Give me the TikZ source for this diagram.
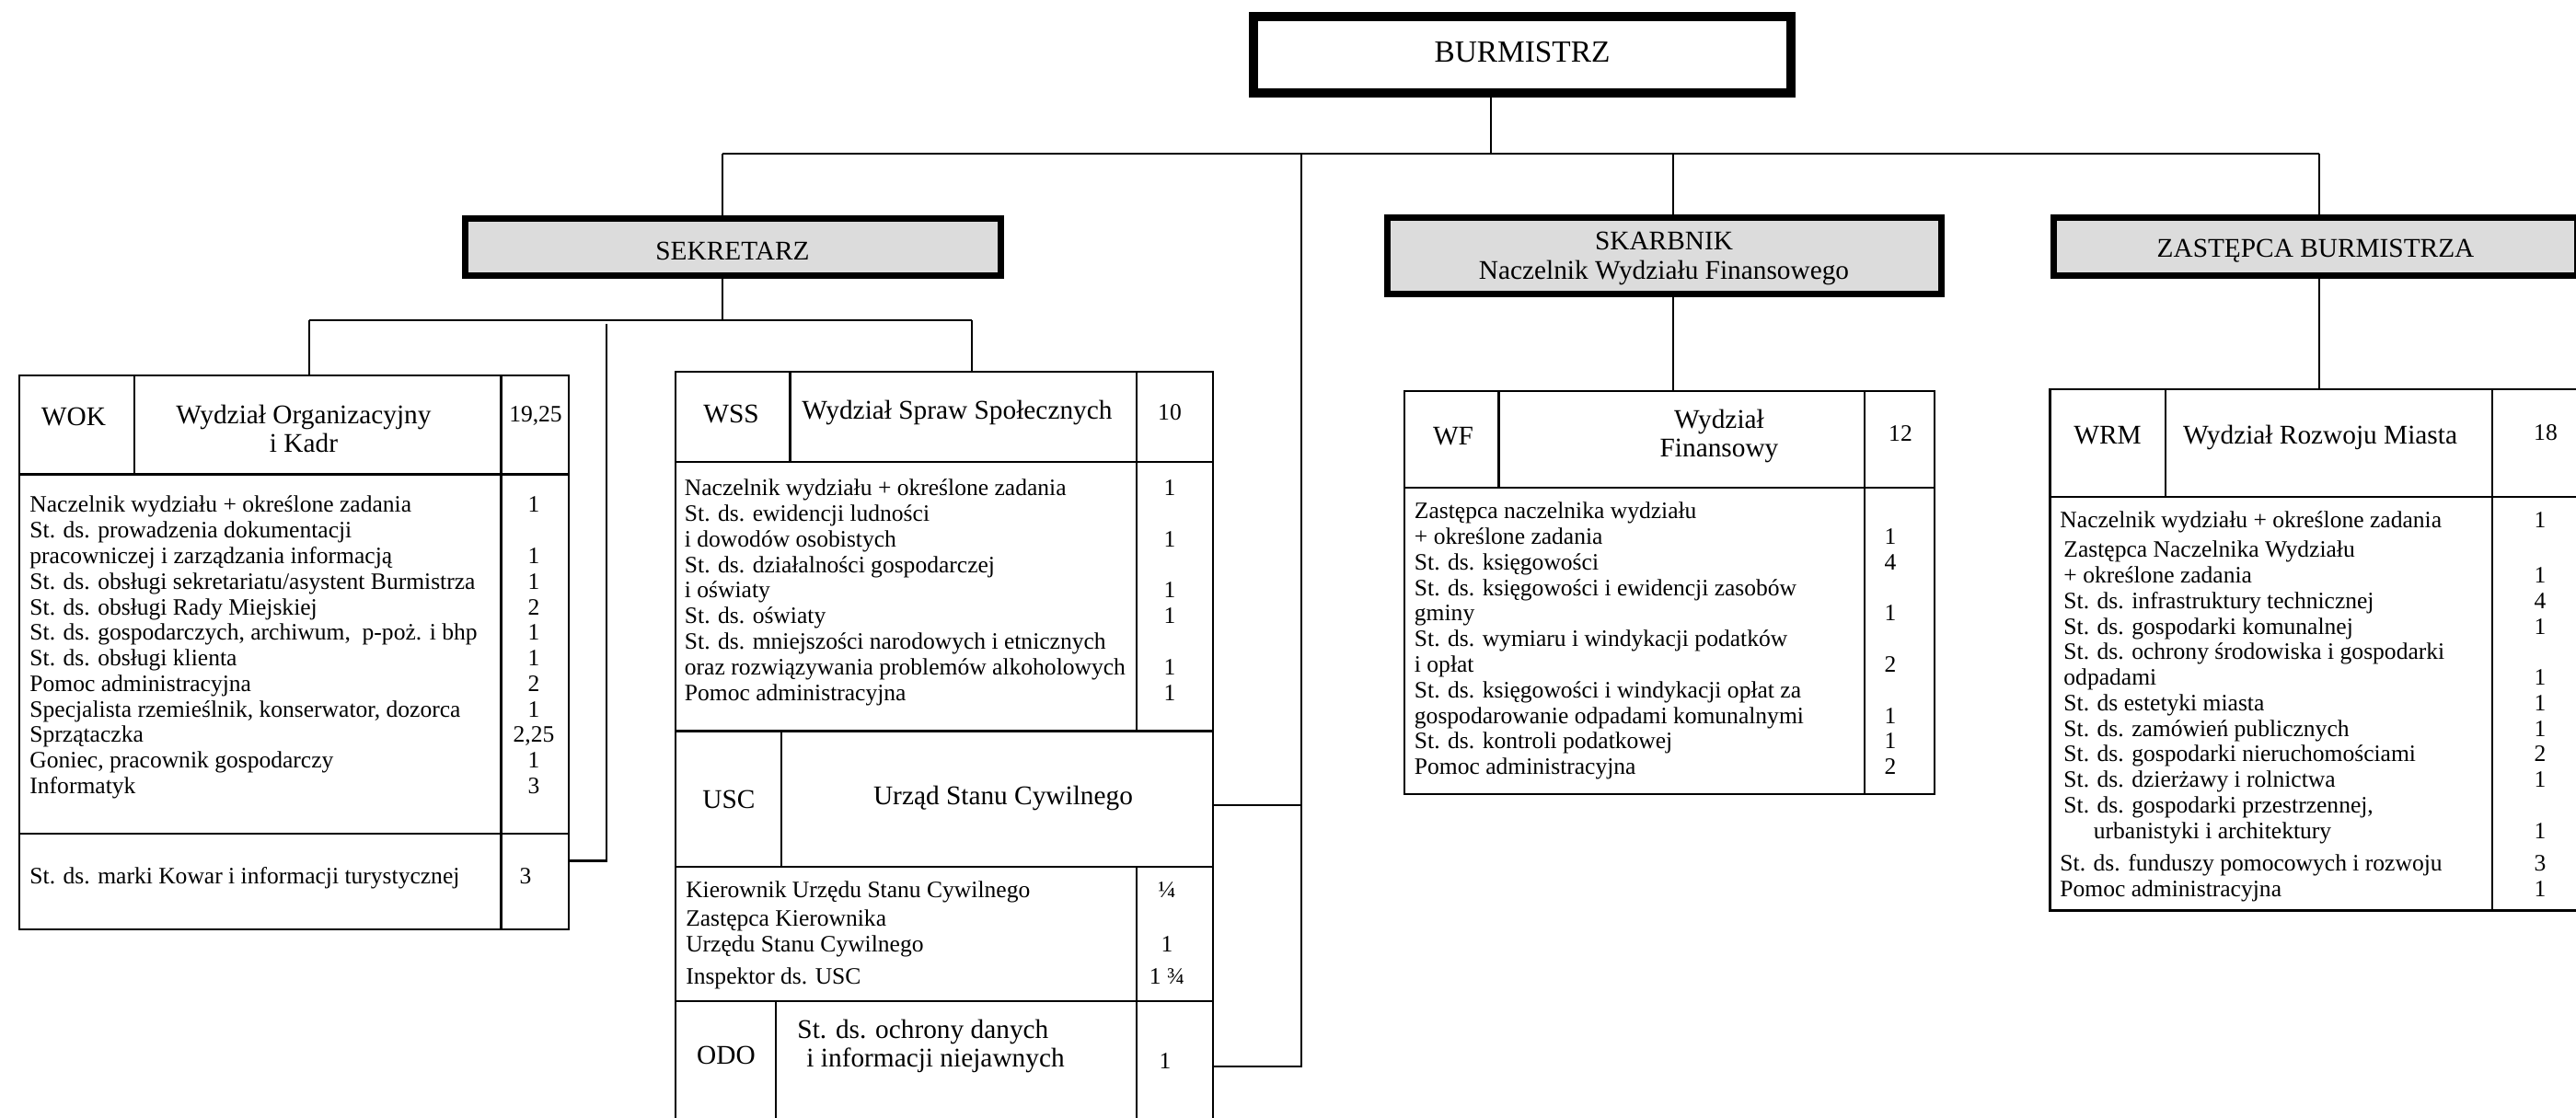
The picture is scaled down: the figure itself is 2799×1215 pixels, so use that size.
\documentclass[tikz,border=0pt]{standalone}
\usepackage{fontspec}
\setmainfont{Liberation Serif}
\usepackage{tikz}
\usetikzlibrary{fit}
\definecolor{boxgray}{RGB}{220,220,220}
\newcommand{\lstfont}{\fontsize{11.5}{12.5}\selectfont}
\newcommand{\hdrfont}{\fontsize{13.2}{14.2}\selectfont}
\newcommand{\bossfont}{\fontsize{15}{17}\selectfont}

\begin{document}
\begin{tikzpicture}[x=0.45pt, y=-0.45pt,
    chief/.style={draw, line width=4.5pt, fill=white, inner sep=0pt},
    deputy/.style={draw, line width=3.2pt, fill=boxgray, inner sep=0pt},
    frame/.style={draw, line width=1pt, inner sep=0pt},
    rule/.style={line width=1pt},
    link/.style={line width=1pt},
    hdr/.style={font=\hdrfont, align=center, inner sep=0pt},
    lst/.style={font=\lstfont, align=left, anchor=north west, inner sep=0pt},
    num/.style={font=\lstfont, align=center, anchor=north, inner sep=0pt},
    one/.style={font=\lstfont, inner sep=0pt, anchor=base}]
    \useasboundingbox (0,0) rectangle (2799,1215);

    % Top management
    \node[chief, fit={(1362,18) (1946,101)}] (burm) {};
    \node[deputy, fit={(505.5,237.5) (1087.5,299.5)}] (sekr) {};
    \node[deputy, fit={(1507.5,236.5) (2109.5,319.5)}] (skarb) {};
    \node[deputy, fit={(2231.5,236.5) (2800.5,299.5)}] (zast) {};
    \node[font=\bossfont, inner sep=0pt] (burmtxt) at (1654,57) {BURMISTRZ};
    \node[hdr] (sekrtxt) at (796,273) {SEKRETARZ};
    \node[hdr] (skarbtxt) at (1808,281) {SKARBNIK\\Naczelnik Wydziału Finansowego};
    \node[hdr] (zasttxt) at (2516,273) {ZASTĘPCA BURMISTRZA};

    % Department frames
    \node[frame, fit={(21,408) (618,1010)}] (wok) {};
    \node[frame, fit={(734,404) (1318,794.6)}] (wss) {};
    \node[frame, fit={(734,794.6) (1318,1088.3)}] (usc) {};
    \node[frame, fit={(734,1088.3) (1318,1230)}] (odo) {};
    \node[frame, fit={(1525.7,425) (2102,863.3)}] (wf) {};
    \node[frame, fit={(2227.5,423) (2822,989.6)}] (wrm) {};

    % Inner rules of the tables
    \draw[rule] (21,515.6) -- (618,515.6) (21,905.7) -- (618,905.7);
    \draw[rule] (146,408) -- (146,515.6) (544.6,408) -- (544.6,1010);
    \draw[rule] (734,502.3) -- (1318,502.3) (858.4,404) -- (858.4,502.3);
    \draw[rule] (1234.8,404) -- (1234.8,794.6);
    \draw[rule] (849.3,794.6) -- (849.3,941.7) (734,941.7) -- (1318,941.7);
    \draw[rule] (1234.8,941.7) -- (1234.8,1088.3);
    \draw[rule] (843,1088.3) -- (843,1230) (1234.8,1088.3) -- (1234.8,1230);
    \draw[rule] (1525.7,530) -- (2102,530) (1628.5,425) -- (1628.5,530);
    \draw[rule] (2025.7,425) -- (2025.7,863.3);
    \draw[rule] (2227.5,539.7) -- (2822,539.7) (2352.8,423) -- (2352.8,539.7);
    \draw[rule] (2708,423) -- (2708,989.6);

    % Main bus
    \coordinate (bdrop) at (1620,167);
    \coordinate (sdrop) at (785,167);
    \coordinate (trunk) at (1414,167);
    \coordinate (fdrop) at (1818,167);
    \coordinate (zdrop) at (2520,167);
    \draw[link] (sdrop) -- (zdrop);
    \draw[link] (burm.south -| bdrop) -- (bdrop);
    \draw[link] (sdrop) -- (sdrop |- sekr.north);
    \draw[link] (fdrop) -- (fdrop |- skarb.north);
    \draw[link] (zdrop) -- (zdrop |- zast.north);
    \draw[link] (skarb.south -| fdrop) -- (fdrop |- wf.north);
    \draw[link] (zast.south -| zdrop) -- (zdrop |- wrm.north);

    % Secretary bus
    \coordinate (sbus) at (785,348);
    \coordinate (wokdrop) at (336,348);
    \coordinate (wssdrop) at (1056,348);
    \draw[link] (sekr.south -| sbus) -- (sbus);
    \draw[link] (wokdrop) -- (wssdrop);
    \draw[link] (wokdrop) -- (wokdrop |- wok.north);
    \draw[link] (wssdrop) -- (wssdrop |- wss.north);
    \coordinate (kowtop) at (659,352);
    \coordinate (kowjoin) at (659,935.6);
    \draw[link] (kowtop) -- (kowjoin) -- (kowjoin -| wok.east);

    % USC and ODO hang on the mayor
    \coordinate (uscjoin) at (1414,875);
    \draw[link] (trunk) |- (odo.east);
    \draw[link] (uscjoin) -- (uscjoin -| usc.east);

    % WOK
    \node[hdr, anchor=base] (wokcode) at (80,463) {WOK};
    \node[hdr] (wokname) at (330,466) {Wydział Organizacyjny\\i Kadr};
    \node[one] (woksum) at (582,459) {19,25};
    \node[lst] (woklist) at (32,537) {\strut Naczelnik wydziału + określone zadania\\St. ds. prowadzenia dokumentacji\\pracowniczej i zarządzania informacją\\St. ds. obsługi sekretariatu/asystent Burmistrza\\St. ds. obsługi Rady Miejskiej\\St. ds. gospodarczych, archiwum,\ \ p-poż. i bhp\\St. ds. obsługi klienta\\Pomoc administracyjna\\Specjalista rzemieślnik, konserwator, dozorca\\Sprzątaczka\\Goniec, pracownik gospodarczy\\Informatyk};
    \node[num] (woknum) at (580,537) {\strut 1\\ \\1\\1\\2\\1\\1\\2\\1\\2,25\\1\\3};
    \node[one, anchor=base west] (kowar) at (32,960.5) {St. ds. marki Kowar i informacji turystycznej};
    \node[one] (kowarnum) at (571,960.5) {3};

    % WSS
    \node[hdr, anchor=base] (wsscode) at (794.5,459.5) {WSS};
    \node[hdr, anchor=base] (wssname) at (1040,456) {Wydział Spraw Społecznych};
    \node[one] (wsssum) at (1271,456.5) {10};
    \node[lst] (wsslist) at (743.5,519) {\strut Naczelnik wydziału + określone zadania\\St. ds. ewidencji ludności\\i dowodów osobistych\\St. ds. działalności gospodarczej\\i oświaty\\St. ds. oświaty\\St. ds. mniejszości narodowych i etnicznych\\oraz rozwiązywania problemów alkoholowych\\Pomoc administracyjna};
    \node[num] (wssnum) at (1271,519) {\strut 1\\ \\1\\ \\1\\1\\ \\1\\1};

    % USC
    \node[hdr, anchor=base] (usccode) at (792,878.5) {USC};
    \node[hdr, anchor=base] (uscname) at (1090,875) {Urząd Stanu Cywilnego};
    \node[lst] (usclist) at (744.8,956) {\strut Kierownik Urzędu Stanu Cywilnego\\[1.45pt]Zastępca Kierownika\\Urzędu Stanu Cywilnego\\[3.25pt]Inspektor ds. USC};
    \node[num] (uscnum) at (1268,956) {\strut ¼\\[1.45pt] \\1\\[3.25pt]1 ¾};

    % ODO
    \node[hdr, anchor=base] (odocode) at (789,1156.5) {ODO};
    \node[hdr, align=left, anchor=west] (odoname) at (866,1137) {St. ds. ochrony danych\\\hspace{4.5pt}i informacji niejawnych};
    \node[one] (odonum) at (1266,1161.5) {1};

    % WF
    \node[hdr, anchor=base] (wfcode) at (1579,483.5) {WF};
    \node[hdr] (wfname) at (1868,474) {Wydział\\Finansowy};
    \node[one] (wfsum) at (2065,479.5) {12};
    \node[lst] (wflist) at (1536.5,544) {\strut Zastępca naczelnika wydziału\\+ określone zadania\\St. ds. księgowości\\St. ds. księgowości i ewidencji zasobów\\gminy\\St. ds. wymiaru i windykacji podatków\\i opłat\\St. ds. księgowości i windykacji opłat za\\gospodarowanie odpadami komunalnymi\\St. ds. kontroli podatkowej\\Pomoc administracyjna};
    \node[num] (wfnum) at (2054,544) {\strut\\1\\4\\ \\1\\ \\2\\ \\1\\1\\2};

    % WRM
    \node[hdr, anchor=base] (wrmcode) at (2290,482.3) {WRM};
    \node[hdr, anchor=base] (wrmname) at (2521,482.3) {Wydział Rozwoju Miasta};
    \node[one] (wrmsum) at (2766,479) {18};
    \node[lst] (wrmlist) at (2238,554) {\strut Naczelnik wydziału + określone zadania\\[1.8pt]
        \hspace{1.8pt}Zastępca Naczelnika Wydziału\\
        \hspace{1.8pt}+ określone zadania\\
        \hspace{1.8pt}St. ds. infrastruktury technicznej\\
        \hspace{1.8pt}St. ds. gospodarki komunalnej\\
        \hspace{1.8pt}St. ds. ochrony środowiska i gospodarki\\
        \hspace{1.8pt}odpadami\\
        \hspace{1.8pt}St. ds estetyki miasta\\
        \hspace{1.8pt}St. ds. zamówień publicznych\\
        \hspace{1.8pt}St. ds. gospodarki nieruchomościami\\
        \hspace{1.8pt}St. ds. dzierżawy i rolnictwa\\
        \hspace{1.8pt}St. ds. gospodarki przestrzennej,\\
        \hspace{16.4pt}urbanistyki i architektury\\[3.4pt]
        St. ds. funduszy pomocowych i rozwoju\\
        Pomoc administracyjna};
    \node[num] (wrmnum) at (2760,554) {\strut 1\\[1.8pt] \\1\\4\\1\\ \\1\\1\\1\\2\\1\\ \\1\\[3.4pt]3\\1};
\end{tikzpicture}
\end{document}
